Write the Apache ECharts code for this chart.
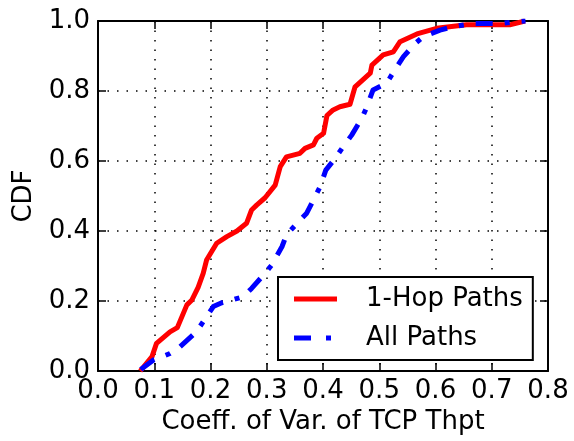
<!DOCTYPE html>
<html>
<head>
<meta charset="utf-8">
<script src="https://cdn.jsdelivr.net/npm/echarts@6/dist/echarts.min.js"></script>
<style>
  html, body { margin: 0; padding: 0; background: #fff; }
  #chart { width: 574px; height: 441px; }
</style>
</head>
<body>
<div id="chart"></div>
<script>
// CDF of the coefficient of variation of TCP throughput
const oneHopX = [0.075, 0.096, 0.104, 0.128, 0.141, 0.158, 0.167, 0.178, 0.187, 0.193, 0.211, 0.229, 0.247, 0.264, 0.273, 0.282, 0.297, 0.315, 0.324, 0.335, 0.359, 0.368, 0.383, 0.389, 0.401, 0.407, 0.418, 0.430, 0.448, 0.457, 0.484, 0.487, 0.507, 0.525, 0.537, 0.567, 0.602, 0.655, 0.732, 0.759];
const oneHopY = [0.0, 0.041, 0.079, 0.112, 0.124, 0.189, 0.203, 0.239, 0.279, 0.317, 0.365, 0.384, 0.400, 0.422, 0.460, 0.474, 0.495, 0.531, 0.584, 0.612, 0.622, 0.636, 0.646, 0.665, 0.679, 0.730, 0.746, 0.755, 0.762, 0.812, 0.851, 0.874, 0.903, 0.912, 0.941, 0.963, 0.979, 0.989, 0.989, 1.0];

const allX = [0.076, 0.098, 0.128, 0.143, 0.175, 0.187, 0.205, 0.220, 0.258, 0.273, 0.294, 0.309, 0.327, 0.335, 0.359, 0.371, 0.383, 0.395, 0.405, 0.418, 0.436, 0.451, 0.469, 0.477, 0.489, 0.513, 0.531, 0.543, 0.564, 0.578, 0.608, 0.632, 0.667, 0.715, 0.744, 0.760];
const allY = [0.004, 0.031, 0.050, 0.065, 0.112, 0.141, 0.184, 0.195, 0.212, 0.236, 0.274, 0.303, 0.355, 0.389, 0.431, 0.451, 0.489, 0.527, 0.574, 0.600, 0.641, 0.674, 0.722, 0.751, 0.803, 0.822, 0.869, 0.898, 0.936, 0.955, 0.974, 0.984, 0.993, 0.993, 0.998, 1.0];

const seriesNames = ['1-Hop Paths', 'All Paths'];
const xLabel = 'Coeff. of Var. of TCP Thpt';
const yLabel = 'CDF';

const FONT = 'DejaVu Sans';
const FS = 26;
const pair = (xs, ys) => xs.map((x, i) => [x, ys[i]]);

// legend keys: a solid bar and a dash-dot bar (the trailing zero-area segment keeps both the same width)
const solidKey = 'path://M0,0h43v5h-43z';
const dashDotKey = 'path://M0,0h17v5h-17z M32,0h5v5h-5z M43,0L43,5z';

const tickStyle = { show: true, inside: true, length: 8, lineStyle: { color: '#000', width: 1.5 } };
const frameLine = { show: true, onZero: false, lineStyle: { color: '#000', width: 2 } };
const gridDots = { show: true, lineStyle: { color: '#000', width: 1.5, type: [1.5, 8] } };

const chart = echarts.init(document.getElementById('chart'), null, { renderer: 'canvas' });
chart.setOption({
  animation: false,
  backgroundColor: '#fff',
  grid: { left: 98, right: 26, top: 21, bottom: 70, containLabel: false },
  xAxis: [
    {
      type: 'value', min: 0, max: 0.8, interval: 0.1, position: 'bottom',
      name: xLabel, nameLocation: 'middle', nameGap: 36,
      nameTextStyle: { fontFamily: FONT, fontSize: FS, color: '#000' },
      axisLine: frameLine, axisTick: tickStyle, splitLine: gridDots,
      axisLabel: { fontFamily: FONT, fontSize: FS, color: '#000', margin: 7,
                   formatter: v => v.toFixed(1) }
    },
    {
      type: 'value', min: 0, max: 0.8, interval: 0.1, position: 'top',
      axisLine: frameLine, axisTick: tickStyle, splitLine: { show: false },
      axisLabel: { show: false }
    }
  ],
  yAxis: [
    {
      type: 'value', min: 0, max: 1, interval: 0.2, position: 'left',
      name: yLabel, nameLocation: 'middle', nameGap: 61, nameRotate: 90,
      nameTextStyle: { fontFamily: FONT, fontSize: FS, color: '#000' },
      axisLine: frameLine, axisTick: tickStyle, splitLine: gridDots,
      axisLabel: { fontFamily: FONT, fontSize: FS, color: '#000', margin: 8,
                   formatter: v => v.toFixed(1) }
    },
    {
      type: 'value', min: 0, max: 1, interval: 0.2, position: 'right',
      axisLine: frameLine, axisTick: tickStyle, splitLine: { show: false },
      axisLabel: { show: false }
    }
  ],
  legend: {
    orient: 'vertical',
    left: 278, top: 277,
    padding: [9, 10, 9, 16],
    itemGap: 13,
    itemWidth: 43, itemHeight: 5,
    borderColor: '#000', borderWidth: 2,
    backgroundColor: '#fff',
    textStyle: { fontFamily: FONT, fontSize: FS, color: '#000', padding: [0, 0, 0, 24] },
    data: [
      { name: seriesNames[0], icon: solidKey, itemStyle: { color: '#ff0000' } },
      { name: seriesNames[1], icon: dashDotKey, itemStyle: { color: '#0000ff' } }
    ]
  },
  series: [
    {
      name: seriesNames[0], type: 'line', data: pair(oneHopX, oneHopY),
      showSymbol: false, symbol: 'none',
      lineStyle: { color: '#ff0000', width: 5, cap: 'butt', join: 'round' },
      itemStyle: { color: '#ff0000' }, z: 2
    },
    {
      name: seriesNames[1], type: 'line', data: pair(allX, allY),
      showSymbol: false, symbol: 'none',
      lineStyle: { color: '#0000ff', width: 5, type: [17, 12, 5, 12], cap: 'butt', join: 'round' },
      itemStyle: { color: '#0000ff' }, z: 3
    }
  ]
});
</script>
</body>
</html>
